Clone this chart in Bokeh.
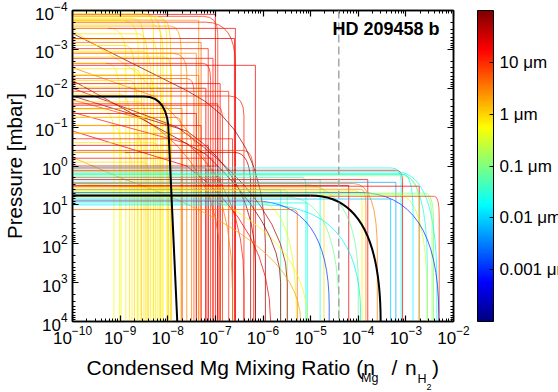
import numpy as np
from bokeh.plotting import figure
from bokeh.layouts import column
from bokeh.models import (Range1d, LogAxis, FixedTicker, LogTickFormatter, ColorBar,
                          LogColorMapper, ColumnDataSource, Span, Label, CustomJSTickFormatter)
from bokeh.embed import file_html
from bokeh.resources import INLINE
from bokeh.core.properties import value

# ---------------- data (log10 values) ----------------
# flat-topped cloud profiles: particle size [um], cloud-top log10 p [mbar],
# log10 x where the top bends, log10 p where profile becomes vertical, deep log10 x
flat_size_um = [0.7, 0.9, 0.6, 0.8, 1.0, 0.55, 0.75, 0.65, 0.85, 0.6, 0.9, 0.7, 1.0, 0.5,
                0.8, 0.65, 0.9, 0.55, 0.75, 0.85, 0.5, 0.7, 0.6, 0.95, 0.8, 0.65, 0.9, 1.1,
                20, 12, 18, 25, 20, 8, 5, 10, 3, 15, 12, 4, 6, 18, 25, 10, 15, 4, 3, 20,
                8, 15, 25, 5, 12, 3, 2, 50, 18, 2.5, 22, 12, 10,
                15, 0.02, 0.025, 0.006, 20, 25, 2.5, 0.6, 0.1, 0.3, 0.001, 0.008, 0.02, 0.015,
                0.0012, 0.12, 0.03, 4, 0.08, 18, 0.2, 0.02, 0.15, 8, 0.9, 0.03, 3, 15, 0.04,
                0.07, 0.35, 0.018, 20]
flat_log_p_top = [-3.92, -3.88, -3.84, -3.80, -3.76, -3.72, -3.65, -3.55, -3.40, -3.25, -3.10,
                  -2.95, -2.80, -2.65, -2.50, -2.35, -2.20, -2.05, -1.85, -1.65, -1.45, -1.25,
                  -1.05, -0.85, -0.60, -0.35, -0.10, 0.15,
                  -3.90, -3.70, -3.54, -3.28, -2.59, -3.85, -3.18, -3.02, -2.90, -2.77, -2.64,
                  -2.33, -2.25, -2.12, -2.00, -1.56, -1.04, -1.48, -0.84, -0.53, -0.40, -0.20,
                  0.00, -1.25, -1.80, -2.90, -3.60, -0.35, -1.60, -3.75, -1.35, -0.70, -1.92,
                  0.11, 0.15, 0.19, 0.42, 0.52, 0.50, 0.60, 0.64, 0.70, 0.72, 0.68, 0.85, 0.95,
                  1.00, 0.90, 0.62, 0.30, 1.12, 0.80, 0.35, 0.25, 0.05, 0.75, 0.78, 0.55, 0.35,
                  0.45, 0.29, 0.60, 0.45, 0.88, 0.22, 0.05]
flat_log_x_knee = [-8.50, -8.40, -8.20, -8.75, -8.10, -8.90, -8.35, -9.25, -8.60, -8.35, -8.90,
                   -8.50, -8.05, -9.30, -8.70, -8.45, -8.80, -8.25, -9.00, -8.60, -9.40, -8.40,
                   -9.20, -8.70, -8.30, -8.90, -8.50, -8.05,
                   -7.00, -7.20, -6.58, -6.60, -6.16, -7.25, -7.30, -7.15, -7.40, -7.05, -7.25,
                   -7.35, -7.60, -6.90, -7.20, -7.00, -7.30, -7.70, -7.60, -7.15, -6.40, -7.05,
                   -6.95, -7.80, -6.70, -7.90, -7.95, -6.60, -6.95, -7.35, -7.40, -6.64, -6.72,
                   -3.20, -3.20, -3.15, -3.21, -2.72, -4.20, -3.95, -4.05, -2.60, -3.20, -4.00,
                   -3.35, -5.10, -6.00, -6.20, -5.52, -5.17, -5.38, -5.50, -3.80, -3.10, -3.30,
                   -2.60, -2.40, -4.80, -4.80, -4.10, -6.90, -5.70, -5.30, -6.20, -3.05, -7.20]
flat_log_p_vert = [-3.50, -3.30, -3.20, -3.20, -3.00, -3.00, -2.90, -2.80, -2.80, -2.60, -2.40,
                   -2.30, -2.20, -1.80, -2.00, -1.80, -1.50, -1.60, -1.20, -1.10, -0.80, -0.80,
                   -0.50, -0.40, -0.20, 0.00, 0.20, 0.40,
                   -3.90, -2.60, -3.54, -3.28, -2.59, -3.40, -3.18, -3.02, -2.90, -2.77, -2.20,
                   -2.33, -1.90, -2.12, -2.00, -1.20, -1.04, -1.48, -0.50, -0.53, 0.20, -0.20,
                   0.00, -0.80, -1.30, -2.40, -3.00, 0.50, -1.60, -3.75, -1.35, -0.70, -1.92,
                   0.40, 3.00, 2.60, 0.42, 0.52, 0.50, 1.00, 0.95, 1.40, 3.50, 3.80, 0.85, 0.95,
                   3.80, 3.60, 0.75, 0.55, 1.25, 3.90, 0.35, 1.00, 0.40, 1.50, 1.30, 0.65, 0.35,
                   2.20, 0.29, 0.60, 3.00, 3.90, 1.20, 0.05]
flat_log_x_deep = [-8.30, -8.15, -8.02, -8.50, -7.94, -8.62, -8.10, -8.88, -8.43, -8.22, -8.70,
                   -8.36, -7.92, -9.01, -8.55, -8.30, -8.64, -8.12, -8.80, -8.46, -9.13, -8.26,
                   -8.98, -8.56, -8.18, -8.75, -8.40, -7.98,
                   -7.00, -6.58, -6.58, -6.60, -6.16, -6.95, -7.30, -7.15, -7.40, -7.05, -7.10,
                   -7.35, -7.45, -6.90, -7.20, -6.85, -7.30, -7.70, -7.50, -7.15, -6.20, -7.05,
                   -6.95, -7.70, -6.40, -7.60, -7.72, -6.26, -6.95, -7.35, -7.40, -6.64, -6.72,
                   -3.07, -2.35, -2.55, -3.21, -2.72, -4.20, -3.84, -3.92, -2.42, -2.55, -2.31,
                   -3.32, -5.07, -3.95, -4.61, -5.49, -5.10, -5.28, -4.40, -3.80, -2.72, -3.10,
                   -2.45, -2.30, -4.72, -4.80, -3.60, -6.90, -5.63, -4.00, -5.30, -2.85, -7.20]

# sloping profiles entering at the left edge
slope_size_um = [70, 45, 60, 12, 3, 2, 0.6, 0.8, 20, 80, 6]
slope_log_p_left = [-3.41, -2.00, -1.80, -1.38, -2.53, -0.22, 0.45, -3.49, -0.90, -2.20, -1.70]
slope_log_x_knee = [-7.60, -7.80, -7.60, -7.60, -8.30, -9.00, -7.50, -9.00, -7.60, -7.20, -8.50]
slope_log_p_knee = [-1.94, -1.00, -0.90, -0.58, -1.80, 0.30, 0.60, -2.70, 0.00, -0.30, -1.20]
slope_log_x_deep = [-5.95, -5.49, -6.16, -6.40, -6.64, -5.21, -5.07, -8.00, -5.84, -5.63, -6.90]
slope_log_p_ctrl = [-0.95, 1.00, 0.30, 0.60, -0.20, 1.90, 1.80, -2.00, 1.60, 1.50, 0.00]
slope_log_p_vert = [2.00, 3.00, 2.50, 3.00, 3.20, 4.00, 4.00, -0.50, 4.00, 3.00, 2.50]

# the two black reference profiles
black_log_p_top = [-1.79, 0.76]
black_log_x_knee = [-8.50, -5.00]
black_log_p_vert = [-0.80, 4.00]
black_log_x_deep = [-7.98, -3.53]
black_log_x_bottom = [-7.80, -3.53]

mg_limit = 3.9e-5
planet_name = "HD 209458 b"
cbar_ticks_um = [0.001, 0.01, 0.1, 1, 10]
x_decades = list(range(-10, -1))
y_decades = list(range(-4, 5))

# x-axis title pieces (text with subscripts)
xtitle_text = ["Condensed Mg Mixing Ratio (n", "Mg", "/", "n", "H", "2", ")"]

# ---------------- helpers ----------------
def e10(a):
    return np.power(10.0, np.asarray(a, dtype=float))

def jet(n=256):
    out = []
    for i in range(n):
        t = i / (n - 1)
        r = min(max(1.5 - abs(4 * t - 3), 0), 1)
        g = min(max(1.5 - abs(4 * t - 2), 0), 1)
        b = min(max(1.5 - abs(4 * t - 1), 0), 1)
        out.append("#%02x%02x%02x" % (int(r * 255), int(g * 255), int(b * 255)))
    return out

JET = jet()
mapper = LogColorMapper(palette=JET, low=1e-4, high=1e2)
XL, YB = 1e-10, 2e4
FONT = "Liberation Sans"
FL, FR = 72, 453          # frame left / right in page pixels
P_H = 351                 # height of the main figure

p = figure(width=558, height=P_H, x_axis_type="log", y_axis_type="log", title=None,
           x_range=Range1d(1e-10, 1e-2), y_range=Range1d(1e4, 1e-4),
           output_backend="svg", toolbar_location=None,
           min_border_left=FL, min_border_right=558 - FR, min_border_top=10, min_border_bottom=30)
p.grid.visible = False
p.outline_line_color = "black"
p.outline_line_width = 1.5
p.background_fill_color = "white"
p.border_fill_color = "white"

cmap = {"field": "size_um", "transform": mapper}
LW, LA = 1.0, 0.72

n = len(flat_size_um)
fdata = dict(size_um=flat_size_um, x0=[XL] * n, pt=e10(flat_log_p_top),
             xk=e10(flat_log_x_knee), pv=e10(flat_log_p_vert),
             xd=e10(flat_log_x_deep), yb=[YB] * n)
fsrc = ColumnDataSource(fdata)
# same profiles, reversed drawing order for the cloud-top lines
fsrc_rev = ColumnDataSource({kk: list(vv)[::-1] for kk, vv in fdata.items()})
m = len(slope_size_um)
ssrc = ColumnDataSource(dict(size_um=slope_size_um, x0=[XL] * m, pl=e10(slope_log_p_left),
                             xk=e10(slope_log_x_knee), pk=e10(slope_log_p_knee),
                             xd=e10(slope_log_x_deep), pc=e10(slope_log_p_ctrl),
                             pv=e10(slope_log_p_vert), yb=[YB] * m))
kw = dict(line_color=cmap, line_width=LW, line_alpha=LA)

p.segment(x0="xd", y0="pv", x1="xd", y1="yb", source=fsrc, **kw)
p.segment(x0="xd", y0="pv", x1="xd", y1="yb", source=ssrc, **kw)
p.quadratic(x0="xk", y0="pt", x1="xd", y1="pv", cx="xd", cy="pt", source=fsrc, **kw)
p.quadratic(x0="xk", y0="pk", x1="xd", y1="pv", cx="xd", cy="pc", source=ssrc, **kw)
p.segment(x0="x0", y0="pl", x1="xk", y1="pk", source=ssrc, **kw)
p.segment(x0="x0", y0="pt", x1="xk", y1="pt", source=fsrc_rev, **kw)

k = len(black_log_p_top)
bsrc = ColumnDataSource(dict(x0=[XL] * k, pt=e10(black_log_p_top), xk=e10(black_log_x_knee),
                             pv=e10(black_log_p_vert), xd=e10(black_log_x_deep),
                             xb=e10(black_log_x_bottom), yb=[1e4] * k))
p.segment(x0="x0", y0="pt", x1="xk", y1="pt", source=bsrc, line_color="black", line_width=2)
p.quadratic(x0="xk", y0="pt", x1="xd", y1="pv", cx="xd", cy="pt", source=bsrc,
            line_color="black", line_width=2)
p.segment(x0="xd", y0="pv", x1="xb", y1="yb", source=bsrc, line_color="black", line_width=2)

p.add_layout(Span(location=mg_limit, dimension="height", line_color="#a8a8a8",
                  line_dash="8 4", line_width=1.5))

# ---------------- axes ----------------
xt = FixedTicker(ticks=[10.0 ** e for e in x_decades],
                 minor_ticks=[kk * 10.0 ** e for e in x_decades for kk in range(2, 10)])
yt = FixedTicker(ticks=[10.0 ** e for e in y_decades],
                 minor_ticks=[kk * 10.0 ** e for e in y_decades for kk in range(2, 10)])

def style(ax, labels=True):
    ax.major_tick_in = 6
    ax.major_tick_out = 0
    ax.minor_tick_in = 3
    ax.minor_tick_out = 0
    ax.axis_line_width = 1.5
    ax.axis_line_color = "black"
    ax.major_tick_line_color = "black"
    ax.major_tick_line_width = 1.2
    ax.minor_tick_line_color = "black"
    ax.major_label_text_font = FONT
    ax.major_label_text_color = "black"
    if labels:
        ax.major_label_text_font_size = "17px"
    else:
        ax.major_label_text_font_size = "0px"
        ax.major_label_standoff = 0

xa = p.xaxis[0]
xa.ticker = xt
xa.formatter = LogTickFormatter()
style(xa)
xa.major_label_standoff = 4

ya = p.yaxis[0]
ya.ticker = yt
ya.formatter = LogTickFormatter()
style(ya)
ya.major_label_standoff = 5
ya.axis_label = "Pressure [mbar]"
ya.axis_label_text_font = FONT
ya.axis_label_text_font_size = "20.5px"
ya.axis_label_text_font_style = "normal"
ya.axis_label_text_color = "black"
ya.axis_label_standoff = 6

blank = CustomJSTickFormatter(code="return ''")
top = LogAxis(ticker=xt, formatter=blank)
style(top, labels=False)
p.add_layout(top, "above")
right = LogAxis(ticker=yt, formatter=blank)
style(right, labels=False)
p.add_layout(right, "right")

p.add_layout(Label(x=1e-2, y=1e-4, x_offset=-14, y_offset=-18, text=planet_name,
                   text_font=FONT, text_font_size="18px", text_font_style="bold",
                   text_color="black", text_align="right", text_baseline="alphabetic"))

cb = ColorBar(color_mapper=mapper, ticker=FixedTicker(ticks=cbar_ticks_um),
              formatter=CustomJSTickFormatter(code="return tick + ' \u03bcm'"),
              width=16, height=311, location=(405, 0), padding=0, label_standoff=6,
              major_label_text_font=FONT, major_label_text_font_size="17px",
              major_label_text_color="black",
              major_tick_line_color="black", major_tick_in=4, major_tick_out=0,
              minor_tick_line_color=None, bar_line_color="black", bar_line_width=1,
              background_fill_alpha=0, border_line_color=None)
p.add_layout(cb)

# ---------------- x-axis title strip (with subscripts), page-pixel coordinates ----------------
strip_h = 392 - P_H
p2 = figure(width=558, height=strip_h, title=None,
            x_range=Range1d(FL, FR), y_range=Range1d(392, P_H),
            output_backend="svg", toolbar_location=None,
            min_border_left=FL, min_border_right=558 - FR, min_border_top=0, min_border_bottom=0,
            x_axis_location=None, y_axis_location=None)
p2.grid.visible = False
p2.outline_line_color = None
p2.background_fill_color = "white"
p2.border_fill_color = "white"
tsrc = ColumnDataSource(dict(
    text=xtitle_text,
    x=[86.0, 360.5, 391.0, 404.5, 417.0, 426.0, 431.5],
    y=[367.0, 377.5, 367.0, 367.0, 378.0, 386.5, 367.0],
    fs=["21px", "12.5px", "21px", "21px", "12.5px", "9px", "21px"]))
p2.text(x="x", y="y", text="text", source=tsrc, text_font=value(FONT),
        text_font_size="fs", text_color="black", text_baseline="alphabetic",
        text_align="left")

layout = column(p, p2, spacing=0)
open("out.html", "w").write(file_html(layout, INLINE))
